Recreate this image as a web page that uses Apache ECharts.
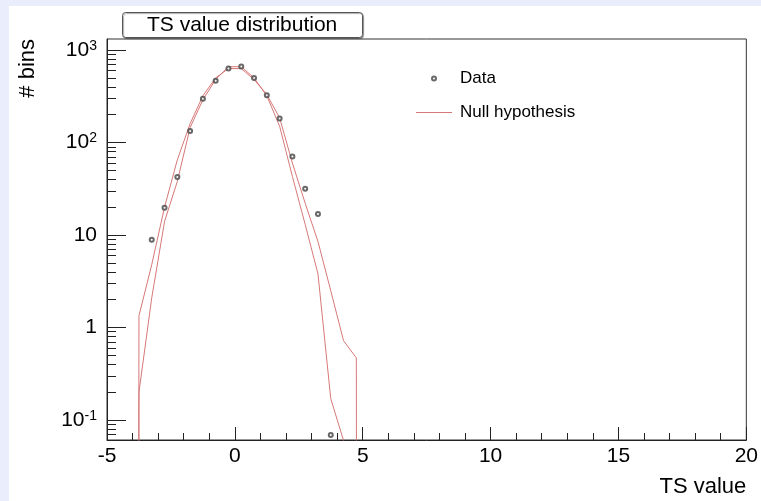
<!DOCTYPE html>
<html>
<head>
<meta charset="utf-8">
<script src="https://cdn.jsdelivr.net/npm/echarts@6/dist/echarts.min.js"></script>
<style>
  html, body { margin: 0; padding: 0; background: #eaedfb; }
  #chart { width: 761px; height: 501px; }
</style>
</head>
<body>
<div id="chart"></div>
<script>
// ---- Data ----
const dataX = [-3.25, -2.75, -2.25, -1.75, -1.25, -0.75, -0.25, 0.25, 0.75, 1.25, 1.75, 2.25, 2.75, 3.25, 3.75];
const dataY = [8.9, 19.7, 42.3, 133, 297, 465, 631, 663, 497, 325, 182, 70.6, 31.6, 16.9, 0.069];

const nullX = [-4.25, -3.75, -3.25, -2.75, -2.25, -1.75, -1.25, -0.75, -0.25, 0.25,
               0.75, 1.25, 1.75, 2.25, 2.75, 3.25, 3.75, 4.25, 4.75, 5.25];
const nullWide = [0, 1.34, 4.8, 20, 65, 160, 320, 500, 630, 630,
                  480, 330, 185, 60, 22, 8.5, 2.5, 0.72, 0.47, 0];
const nullNarrow = [0, 0.2, 2.1, 14, 38, 145, 290, 480, 660, 660,
                    500, 320, 150, 43, 13, 3.8, 0.17, 0.06, 0, 0];

const xTicks = [-5, 0, 5, 10, 15, 20];
const yDecades = [-1, 0, 1, 2, 3];          // 10^-1 ... 10^3
const yMinValue = 0.0608, yMaxValue = 1316;  // axis range (value space)

// ---- helpers ----
const LOG_ZERO = -100; // log10(0) → far below the axis, as a log scale draws it
const lg = v => (v > 0 ? Math.log10(v) : LOG_ZERO);
const yMin = Math.log10(yMinValue), yMax = Math.log10(yMaxValue);
const minorY = [];
for (let d = -2; d <= 3; d++) {
  for (let k = 2; k <= 9; k++) {
    const v = Math.log10(k) + d;
    if (v >= yMin && v <= yMax) minorY.push(v);
  }
}
const FONT = "'Liberation Sans', Arial, Helvetica, sans-serif";
const supLabel = v => {
  const e = Math.round(v);
  if (e === 0) return '{b|1}';
  if (e === 1) return '{b|10}';
  return '{b|10}{s|' + e + '}';
};
const NULL_COLOR = '#d67878';

const chart = echarts.init(document.getElementById('chart'), null, { renderer: 'canvas' });
chart.setOption({
  backgroundColor: '#eaedfb',
  animation: false,
  graphic: [{
    type: 'rect', z: -10, silent: true,
    shape: { x: 9, y: 6, width: 752, height: 495 },
    style: { fill: '#ffffff' }
  }],
  title: {
    text: 'TS value distribution',
    left: 122, top: 12,
    padding: [3, 25, 2, 25],
    backgroundColor: '#ffffff',
    borderColor: '#555',
    borderWidth: 1,
    borderRadius: 3,
    shadowColor: 'rgba(0,0,0,0.35)', shadowOffsetX: 1, shadowOffsetY: 1, shadowBlur: 1,
    textStyle: { fontFamily: FONT, fontSize: 21, fontWeight: 'normal', color: '#000' }
  },
  legend: {
    orient: 'vertical',
    left: 416, top: 70, padding: 0,
    itemWidth: 36, itemHeight: 4, itemGap: 17,
    textStyle: { fontFamily: FONT, fontSize: 17, color: '#000', padding: [0, 0, 0, 3] },
    data: [
      { name: 'Data', icon: 'emptyCircle' },
      { name: 'Null hypothesis', icon: 'path://M0,0H36V1H0Z' }
    ]
  },
  grid: {
    left: 107, right: 12, top: 39, bottom: 61,
    show: true, borderColor: '#333', borderWidth: 1, backgroundColor: 'transparent',
    containLabel: false
  },
  xAxis: {
    type: 'value', min: -5, max: 20, interval: 5,
    name: 'TS value', nameLocation: 'end', nameGap: 0,
    nameTextStyle: { fontFamily: FONT, fontSize: 22, color: '#000', align: 'right', verticalAlign: 'top', padding: [36, 0, 0, 0] },
    axisLine: { show: true, onZero: false, lineStyle: { color: '#222', width: 1 } },
    axisTick: { show: true, inside: true, length: 13, lineStyle: { color: '#222' } },
    minorTick: { show: true, splitNumber: 5, length: 7, lineStyle: { color: '#222' } },
    axisLabel: { fontFamily: FONT, fontSize: 21, color: '#000', margin: 6,
      customValues: xTicks, formatter: v => String(v) },
    splitLine: { show: false }, minorSplitLine: { show: false }
  },
  yAxis: [{
    type: 'value', min: yMin, max: yMax,
    name: '# bins', nameLocation: 'end', nameGap: 0, nameRotate: 90,
    nameTextStyle: { fontFamily: FONT, fontSize: 22, color: '#000', align: 'right', verticalAlign: 'bottom', padding: [0, 0, 68, 0] },
    axisLine: { show: true, onZero: false, lineStyle: { color: '#222', width: 1 } },
    axisTick: { show: true, inside: true, length: 19, customValues: yDecades, lineStyle: { color: '#222' } },
    axisLabel: {
      customValues: yDecades, margin: 10,
      formatter: supLabel,
      rich: {
        b: { fontFamily: FONT, fontSize: 21, color: '#000', lineHeight: 22 },
        s: { fontFamily: FONT, fontSize: 14, color: '#000', verticalAlign: 'top', lineHeight: 14 }
      }
    },
    splitLine: { show: false }
  }, {
    type: 'value', min: yMin, max: yMax, position: 'left', offset: 0,
    axisLine: { show: false, onZero: false },
    axisTick: { show: true, inside: true, length: 9, customValues: minorY, lineStyle: { color: '#222' } },
    axisLabel: { show: false },
    splitLine: { show: false }
  }],
  series: [{
    name: 'Null hypothesis', type: 'line', symbol: 'none', clip: true, z: 2,
    lineStyle: { color: NULL_COLOR, width: 1 }, itemStyle: { color: NULL_COLOR },
    data: nullX.map((x, i) => [x, lg(nullWide[i])])
  }, {
    name: 'Null hypothesis', type: 'line', symbol: 'none', clip: true, z: 2,
    lineStyle: { color: NULL_COLOR, width: 1 }, itemStyle: { color: NULL_COLOR },
    data: nullX.map((x, i) => [x, lg(nullNarrow[i])])
  }, {
    name: 'Data', type: 'scatter', symbol: 'emptyCircle', symbolSize: 4, z: 3,
    itemStyle: { color: '#444', borderColor: '#444', borderWidth: 1 },
    data: dataX.map((x, i) => [x, lg(dataY[i])])
  }]
});
</script>
</body>
</html>
